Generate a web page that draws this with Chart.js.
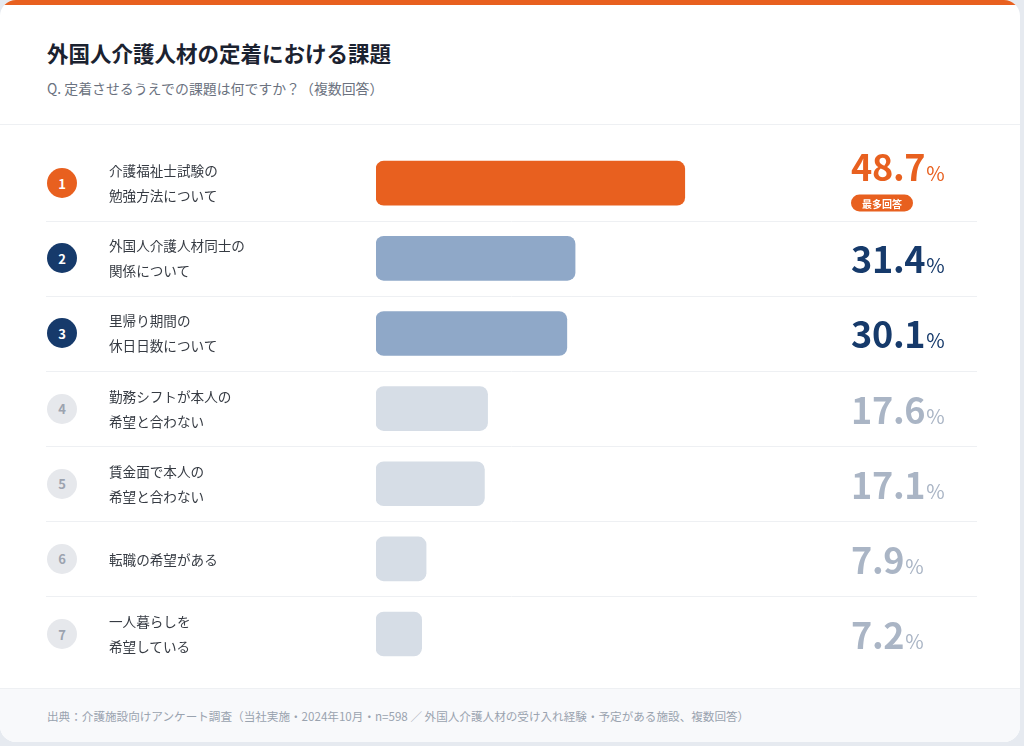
<!DOCTYPE html>
<html lang="ja">
<head>
<meta charset="utf-8">
<script src="https://cdn.jsdelivr.net/npm/chart.js@4.4.1/dist/chart.umd.min.js"></script>
<style>
  html,body{margin:0;padding:0;}
  body{width:1024px;height:746px;background:#e6eaf0;overflow:hidden;font-family:"Noto Sans CJK JP","Noto Sans",sans-serif;}
  #card{position:absolute;left:0;top:0;width:1020px;height:742px;background:#fff;border-radius:16px;overflow:hidden;}
  #topbar{position:absolute;left:0;top:0;width:100%;height:5px;background:#e8601f;}
  #header{position:absolute;left:0;top:0;width:100%;height:124px;border-bottom:1px solid #eef0f3;}
  #title{position:absolute;left:47px;top:38px;font-size:21.5px;font-weight:700;color:#1b2230;line-height:30px;white-space:nowrap;}
  #subtitle{position:absolute;left:47px;top:78px;font-size:13.9px;color:#6b7280;line-height:20px;white-space:nowrap;}
  #chartWrap{position:absolute;left:0;top:125px;width:1020px;height:563px;}
  #footer{position:absolute;left:0;top:688px;width:100%;height:60px;background:#f8f9fb;border-top:1px solid #eef0f3;}
  #source{position:absolute;left:47px;top:18px;font-size:11.6px;color:#9aa3af;white-space:nowrap;line-height:18px;}
  .circle{position:absolute;left:47px;width:30px;height:30px;border-radius:50%;display:flex;align-items:center;justify-content:center;font-size:13px;font-weight:700;transform:translateY(-50%);}
  .label{position:absolute;left:109px;font-size:13.6px;line-height:25px;color:#363b43;transform:translateY(-50%);white-space:nowrap;}
  .valueGroup{position:absolute;left:851px;display:flex;flex-direction:column;align-items:flex-start;transform:translateY(-50%);}
  .value{font-size:36px;font-weight:700;line-height:36px;white-space:nowrap;letter-spacing:-0.3px;}
  .value .pct{font-size:20px;font-weight:400;margin-left:1px;}
  .badge{margin-top:4px;height:17px;padding:0 11px;border-radius:9px;background:#e8601f;color:#fff;font-size:10px;font-weight:700;line-height:17px;}
</style>
</head>
<body>
<div id="card">
  <div id="topbar"></div>
  <div id="header">
    <div id="title">外国人介護人材の定着における課題</div>
    <div id="subtitle">Q. 定着させるうえでの課題は何ですか？（複数回答）</div>
  </div>
  <div id="chartWrap"><canvas id="chart"></canvas></div>
  <div id="overlay"></div>
  <div id="footer">
    <div id="source">出典：介護施設向けアンケート調査（当社実施・2024年10月・n=598 ／ 外国人介護人材の受け入れ経験・予定がある施設、複数回答）</div>
  </div>
</div>
<script>
// ---- data ----
const categoryLines = [
  ["介護福祉士試験の", "勉強方法について"],
  ["外国人介護人材同士の", "関係について"],
  ["里帰り期間の", "休日日数について"],
  ["勤務シフトが本人の", "希望と合わない"],
  ["賃金面で本人の", "希望と合わない"],
  ["転職の希望がある"],
  ["一人暮らしを", "希望している"]
];
const values = [48.7, 31.4, 30.1, 17.6, 17.1, 7.9, 7.2];
const ranks = [1, 2, 3, 4, 5, 6, 7];
const topBadgeText = "最多回答";

// ---- styles (by tier) ----
const tierOf = i => (i === 0 ? 0 : (i < 3 ? 1 : 2));
const barColors = ["#e8601f", "#8fa8c8", "#d6dde6"];
const circleBg = ["#e8601f", "#163a6b", "#e6e8ec"];
const circleFg = ["#ffffff", "#ffffff", "#9ca3af"];
const valueColors = ["#e8601f", "#163a6b", "#aab5c5"];

const separatorPlugin = {
  id: 'separators',
  beforeDatasetsDraw(chart) {
    const y = chart.scales.y, ctx = chart.ctx;
    ctx.save();
    ctx.strokeStyle = '#eef0f3';
    ctx.lineWidth = 1;
    for (let i = 0; i < values.length - 1; i++) {
      const py = Math.round((y.getPixelForValue(i) + y.getPixelForValue(i + 1)) / 2) + 0.5;
      ctx.beginPath();
      ctx.moveTo(46, py);
      ctx.lineTo(977, py);
      ctx.stroke();
    }
    ctx.restore();
  }
};

const chart = new Chart(document.getElementById('chart'), {
  type: 'bar',
  data: {
    labels: categoryLines.map(l => l.join('')),
    datasets: [{
      data: values,
      backgroundColor: values.map((v, i) => barColors[tierOf(i)]),
      borderRadius: 8,
      borderSkipped: false,
      barThickness: 44
    }]
  },
  options: {
    indexAxis: 'y',
    responsive: true,
    maintainAspectRatio: false,
    animation: false,
    layout: { padding: { left: 376, right: 10, top: 20.6, bottom: 16.4 } },
    plugins: { legend: { display: false }, tooltip: { enabled: false } },
    scales: {
      x: { display: false, min: 0, max: 100 },
      y: { display: false }
    }
  },
  plugins: [separatorPlugin]
});

// ---- overlay text, positioned from the chart's own scale ----
const overlay = document.getElementById('overlay');
const offsetTop = 125;
values.forEach((v, i) => {
  const cy = offsetTop + chart.scales.y.getPixelForValue(i);
  const t = tierOf(i);

  const c = document.createElement('div');
  c.className = 'circle';
  c.style.top = cy + 'px';
  c.style.background = circleBg[t];
  c.style.color = circleFg[t];
  c.textContent = ranks[i];
  overlay.appendChild(c);

  const l = document.createElement('div');
  l.className = 'label';
  l.style.top = cy + 'px';
  l.innerHTML = categoryLines[i].join('<br>');
  overlay.appendChild(l);

  const g = document.createElement('div');
  g.className = 'valueGroup';
  const val = document.createElement('div');
  val.className = 'value';
  val.style.color = valueColors[t];
  val.innerHTML = v.toFixed(1) + '<span class="pct">%</span>';
  g.appendChild(val);
  if (i === 0) {
    const b = document.createElement('div');
    b.className = 'badge';
    b.textContent = topBadgeText;
    g.appendChild(b);
    g.style.top = (cy - 4) + 'px';
  } else {
    g.style.top = (cy + 3) + 'px';
  }
  overlay.appendChild(g);
});
</script>
</body>
</html>
